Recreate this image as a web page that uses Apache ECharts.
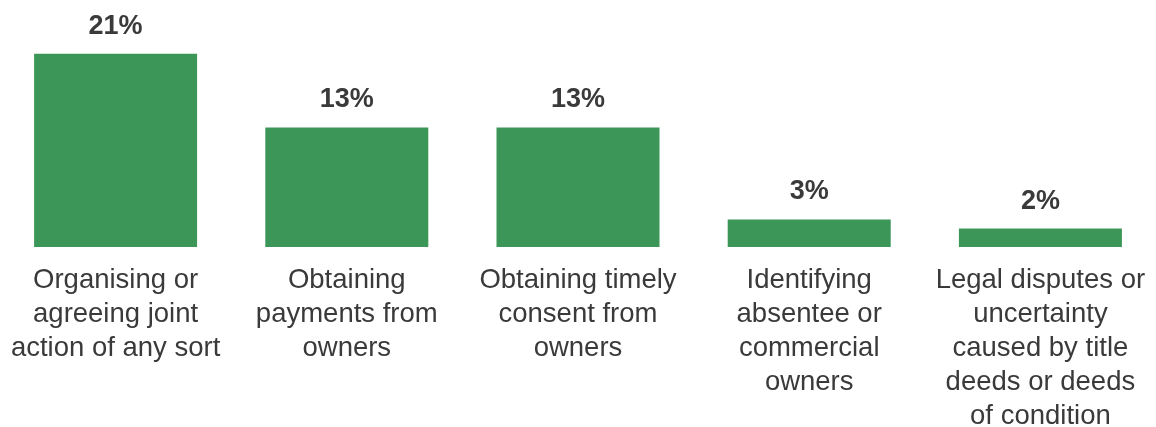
<!DOCTYPE html>
<html>
<head>
<meta charset="utf-8">
<script src="https://cdn.jsdelivr.net/npm/echarts@6/dist/echarts.min.js"></script>
<style>
  html, body { margin: 0; padding: 0; background: #fff; }
  #chart { width: 1156px; height: 427px; }
</style>
</head>
<body>
<div id="chart"></div>
<script>
// Categories (line breaks as they are set under each bar)
const categories = [
  'Organising or\nagreeing joint\naction of any sort',
  'Obtaining\npayments from\nowners',
  'Obtaining timely\nconsent from\nowners',
  'Identifying\nabsentee or\ncommercial\nowners',
  'Legal disputes or\nuncertainty\ncaused by title\ndeeds or deeds\nof condition'
];
// Share of respondents, percent
const shares = [21, 13, 13, 3, 2];

const FONT = '"Liberation Sans", Arial, sans-serif';
const TEXT = '#3a3a3a';

const chart = echarts.init(document.getElementById('chart'), null, { renderer: 'canvas' });
chart.setOption({
  animation: false,
  grid: {
    left: 0, right: 0, top: 17, bottom: 180,
    containLabel: false,
    outerBoundsMode: 'none'
  },
  xAxis: {
    type: 'category',
    data: categories,
    axisLine: { show: false },
    axisTick: { show: false },
    axisLabel: {
      interval: 0,
      margin: 16,
      color: TEXT,
      fontFamily: FONT,
      fontSize: 27.5,
      lineHeight: 34
    }
  },
  yAxis: {
    type: 'value',
    min: 0,
    max: 25,
    show: false,
    splitLine: { show: false }
  },
  series: [{
    type: 'bar',
    data: shares,
    barWidth: 163,
    itemStyle: { color: '#3c9657' },
    label: {
      show: true,
      position: 'top',
      distance: 14,
      formatter: '{c}%',
      color: TEXT,
      fontFamily: FONT,
      fontWeight: 'bold',
      fontSize: 27
    }
  }]
});
</script>
</body>
</html>
